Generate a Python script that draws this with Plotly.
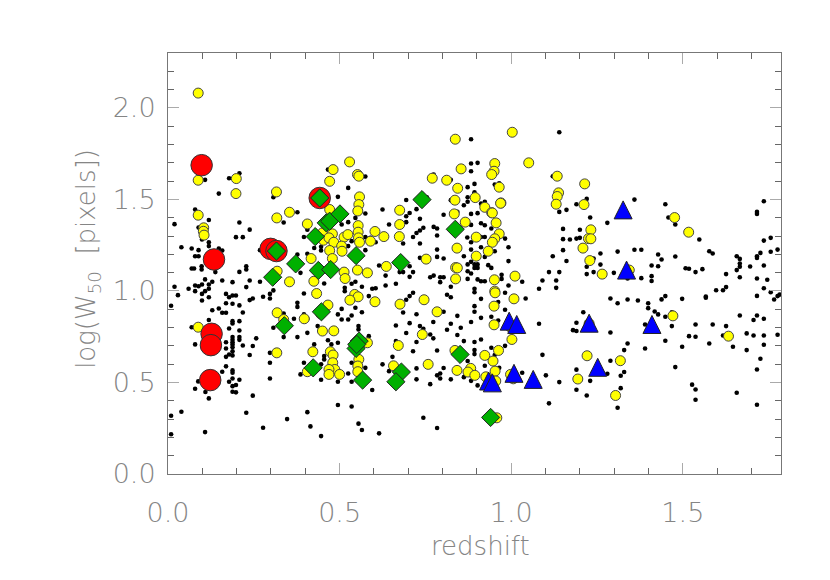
import plotly.graph_objects as go

black_low_z = [(.069,1.123),(.076,1.123),(.098,1.135),(.098,1.117),(.138,1.103),(.228,1.135),(.228,1.117),(.208,1.104),
(.019,1.023),(.029,.977),(.009,.919),(.06,1.012),(.079,1.03),(.089,1.026),(.099,1.035),(.108,1.063),(.079,.999),(.099,.984),(.108,.999),(.119,1.035),(.119,1.012),(.129,1.05),(.099,.948),(.119,.966),(.158,1.057),(.188,1.048),(.228,1.021),(.238,1.057),(.268,1.05),
(.169,.984),(.178,.966),(.188,.975),(.198,.975),(.169,.933),(.188,.93),(.208,.921),(.238,.95),(.247,.959),(.277,.968),(.297,.984),(.297,.959),(.307,1.003),
(.129,.895),(.148,.904),(.158,.881),(.169,.881),(.218,.882),(.119,.841),(.188,.835),(.188,.822),(.208,.835),(.178,.795),(.208,.784),(.188,.748),(.188,.733),(.188,.72),(.208,.748),(.208,.733),(.169,.72),(.218,.702),(.188,.708),(.188,.693),(.169,.686),(.188,.671),(.178,.653),(.169,.64),(.188,.648),(.238,.65),(.247,.699),(.257,.741),(.069,.802),(.079,.708),
(.158,.559),(.169,.588),(.188,.566),(.188,.553),(.208,.515),(.188,.522),(.178,.504),(.188,.48),(.198,.486),(.188,.449),(.198,.446),(.109,.448),(.079,.466),(.088,.506),(.119,.413),(.247,.428),(.297,.662),(.297,.608),(.297,.522),(.228,.335),(.277,.253),(.039,.34),(.009,.318),(.009,.217),(.108,.229),(.347,.30),(.406,.338),(.415,.26),(.446,.207),(.495,.377),(.535,.369),(.555,.275),(.565,.24),
(.208,1.643),(.178,1.616),(.108,1.607),(.148,1.532),(.307,1.512),(.079,1.445),(.119,1.388),(.019,1.365),(.208,1.374),(.089,1.346),(.238,1.335),(.099,1.281),(.198,1.294),(.218,1.294),(.119,1.266),(.119,1.245),(.039,1.239),(.069,1.232),(.089,1.223),(.079,1.19),(.089,1.19),(.148,1.232),(.158,1.221),(.268,1.223),(.337,1.374),(.377,1.43),(.466,1.663),(.575,1.625),(.525,1.563),(.495,1.514),(.575,1.423),(.546,1.399),(.506,1.363),(.525,1.376),(.396,1.295),(.406,1.335),(.426,1.235),(.446,1.241),(.446,1.221),(.506,1.241),(.525,1.245),(.535,1.272),(.575,1.223),(.575,1.294),(.585,1.286),(.406,1.203),(.377,1.199),
(.396,.986),(.377,.935),(.377,.913),(.386,1.099),(.455,1.041),(.406,.771),(.377,.748),(.337,.748),(.307,.799),(.367,.848),(.396,.872),(.337,.877),(.436,.808),(.406,.848),(.426,.708),(.466,.731),(.476,.708),(.495,.717),(.455,.644),(.455,.626),(.446,.599),(.396,.608),(.386,.544),(.446,.515),(.495,.504),(.525,.549),(.535,.504),(.575,.58),(.515,1.017),(.515,.999),(.565,1.023),(.585,.972),(.535,1.039),(.546,1.05),(.506,.902),(.495,.872),(.506,.844),(.535,.866),(.525,.844),(.546,.908),(.565,.884),(.555,.808),(.555,.79),(.585,.753),(.535,.608)]

black_mid_z = [(.883,1.829),(1.14,1.867),(.883,1.696),(.902,1.7),(.883,1.654),(.893,1.585),(.873,1.567),(.952,1.581),(.774,1.636),(.824,1.607),(.965,1.588),(1.121,1.627),(.893,1.539),(.873,1.512),(.824,1.496),(.873,1.487),(.862,1.468),(.912,1.477),(.923,1.487),(.754,1.512),(.694,1.497),(.625,1.445),(.724,1.447),(.704,1.426),(.694,1.408),(.694,1.376),(.734,1.394),(.644,1.363),(.803,1.416),(.843,1.432),(.883,1.421),(.902,1.425),(.912,1.37),(.923,1.359),(.883,1.361),(.942,1.341),(.744,1.345),(.734,1.33),(.724,1.317),(.714,1.295),(.774,1.35),(.784,1.341),(.784,1.303),(.605,1.266),(.59,1.29),(.685,1.259),(.734,1.259),(.872,1.292),(.883,1.266),(.912,1.295),(.923,1.295),(.982,1.286),(.992,1.239),(.952,1.217),(.912,1.239),(.883,1.226),(.784,1.226),(.784,1.186),(.803,1.177),(.734,1.181),(.862,1.19),(.923,1.186),(.992,1.163),(.883,1.159),(.873,1.145),(.893,1.145),(.902,1.145),(.893,1.126),(.902,1.126),(.933,1.141),(.942,1.126),(.615,1.139),(.634,1.084),(.704,1.135),(.714,1.103),(.704,1.077),(.685,1.103),(.675,1.103),(.774,1.084),(.764,1.075),(.803,1.075),(.793,1.075),(.793,1.048),(.873,1.108),(.883,1.095),(.873,1.066),(.902,1.063),(.912,1.053),(.923,1.053),(.972,1.088),(.972,1.066),(.992,1.03),(1.032,1.05),(1.091,1.057),(1.11,1.103),(1.14,1.103),(1.131,1.057),(1.131,1.017),(1.081,1.012),(.664,1.039),(.634,1.03),(.824,1.023),(.893,1.012),(.595,1.012),(.605,1.015),(1.121,1.19),(1.161,1.164),(1.151,1.223),(1.151,1.283),(1.171,1.281),(1.151,1.339),(1.161,1.443),(1.14,1.432),
(.714,.99),(.704,.972),(.694,.952),(.813,.979),(.824,.966),(.893,.993),(.912,.957),(.893,.917),(.893,.886),(.982,.99),(1.042,.959),(.982,.897),(.962,.939),(.942,.859),(.962,.839),(.685,.882),(.724,.873),(.803,.886),(.843,.864),(.912,.853),(.773,.83),(.704,.824),(.664,.811),(.734,.808),(.744,.793),(.824,.821),(.883,.83),(.853,.799),(.813,.788),(.694,.77),(.764,.762),(.773,.741),(.843,.759),(1.081,.821),(.724,.721),(.862,.726),(.893,.721),(.912,.735),(.664,.726),(.982,.7),(.942,.69),(.714,.671),(.784,.675),(.893,.677),(.893,.655),(.952,.65),(1.091,.651),(.654,.64),(.873,.617),(.625,.599),(.644,.562),(.724,.577),(.803,.579),(.923,.591),(.965,.58),(1.032,.553),(1.101,.539),(1.14,.502),(.793,.549),(.784,.539),(.793,.522),(.724,.517),(.764,.491),(.824,.517),(.862,.529),(.883,.509),(.902,.484),(.595,.459),(1.11,.386),(.744,.307),(.784,.251),(.615,.222)]

black_high_z = [(1.359,1.499),(1.449,1.474),(1.22,1.503),(1.19,1.474),(1.736,1.49),(1.716,1.432),(1.716,1.421),(1.23,1.401),(1.28,1.372),(1.458,1.401),(1.478,1.363),(1.2,1.334),(1.19,1.286),(1.2,1.29),(1.548,1.281),(1.736,1.275),(1.756,1.29),(1.31,1.215),(1.359,1.225),(1.379,1.225),(1.428,1.199),(1.438,1.172),(1.478,1.188),(1.577,1.217),(1.587,1.205),(1.657,1.19),(1.666,1.175),(1.716,1.19),(1.716,1.18),(1.726,1.208),(1.756,1.214),(1.776,1.226),(1.26,1.205),(1.26,1.144),(1.24,1.177),(1.22,1.132),(1.24,1.103),(1.22,1.092),(1.299,1.099),(1.409,1.139),(1.428,1.135),(1.508,1.124),(1.518,1.121),(1.537,1.103),(1.557,1.119),(1.666,1.15),(1.666,1.132),(1.657,1.114),(1.696,1.134),(1.736,1.139),(1.626,1.092),(1.666,1.075),(1.716,1.068),(1.746,1.061),(1.379,1.07),(1.409,1.081),(1.409,1.054),(1.339,1.068),(1.626,1.021),(1.617,1.004),(1.597,1.004),(1.736,1.015),(1.756,.993),(1.716,.973),(1.567,.97),(1.567,.963),(1.449,.972),(1.438,.954),(1.498,.957),(1.289,.959),(1.339,.953),(1.369,.948),(1.776,.972),(1.766,.953),(1.782,.98),
(1.31,.933),(1.399,.933),(1.399,.906),(1.418,.888),(1.428,.872),(1.449,.859),(1.21,.884),(1.19,.826),(1.18,.786),(1.19,.781),(1.289,.773),(1.39,.817),(1.468,.808),(1.468,.884),(1.537,.817),(1.587,.817),(1.626,.808),(1.666,.866),(1.716,.866),(1.706,.841),(1.736,.848),(1.518,.753),(1.537,.75),(1.617,.757),(1.686,.768),(1.706,.757),(1.736,.757),(1.776,.761),(1.449,.728),(1.339,.713),(1.329,.677),(1.39,.686),(1.498,.695),(1.577,.713),(1.646,.695),(1.686,.677),(1.736,.706),(1.726,.63),(1.289,.619),(1.19,.57),(1.28,.548),(1.329,.557),(1.319,.537),(1.478,.584),(1.716,.571),(1.23,.509),(1.319,.469),(1.19,.46),(1.22,.429),(1.31,.362),(1.527,.488),(1.537,.462),(1.537,.406),(1.657,.444),(1.716,.378)]

yellow_points = [(.088,2.081),(.088,1.605),(.199,1.614),(.198,1.532),(.316,1.541),(.088,1.414),(.104,1.345),(.103,1.326),(.105,1.305),(.317,1.399),(.354,1.43),(.406,1.366),(.471,1.599),(.481,1.663),(.529,1.705),(.552,1.636),(.556,1.627),(.558,1.514),(.556,1.472),(.553,1.437),(.471,1.445),(.554,1.357),(.554,1.321),(.555,1.29),(.558,1.266),(.45,1.317),(.479,1.312),(.453,1.277),(.469,1.29),(.483,1.266),(.513,1.294),(.524,1.308),(.506,1.245),(.507,1.217),(.471,1.221),(.417,1.177),(.479,1.177),(.59,1.272),
(.088,.802),(.318,.881),(.337,.844),(.354,1.05),(.318,1.108),(.317,.662),(.425,1.053),(.433,.986),(.466,.923),(.397,.848),(.445,.875),(.45,.781),(.483,.782),(.422,.668),(.473,.668),(.481,.65),(.48,.608),(.486,.571),(.469,.571),(.469,.544),(.5,.544),(.406,.559),(.513,1.103),(.516,1.068),(.552,1.114),(.581,1.099),(.544,.981),(.554,.968),(.53,.95),(.556,.626),(.553,.59),(.553,.559),(.581,.717),
(.837,1.829),(1.003,1.867),(.952,1.696),(1.051,1.7),(.95,1.654),(.943,1.636),(.854,1.667),(.77,1.616),(.812,1.605),(1.134,1.627),(.844,1.561),(.965,1.567),(.836,1.496),(.895,1.51),(1.138,1.536),(1.134,1.516),(1.131,1.474),(.97,1.481),(.969,1.479),(.923,1.457),(.943,1.428),(.945,1.426),(.834,1.421),(.866,1.376),(.956,1.372),(.675,1.441),(.675,1.363),(.674,1.297),(.603,1.325),(.629,1.297),(.898,1.294),(.965,1.312),(.952,1.285),(.945,1.266),(.933,1.217),(.842,1.234),(.898,1.19),(.752,1.174),(.636,1.134),(.838,1.128),(.843,1.126),(1.011,1.081),(.838,1.066),(.951,1.061),(.952,.999),
(.603,.941),(.676,.928),(.746,.952),(.784,.886),(.953,.99),(1.008,.957),(.95,.917),(.95,.815),(.741,.762),(.671,.702),(1.002,.735),(.963,.675),(.923,.648),(.947,.617),(.836,.675),(.758,.599),(.657,.591),(.842,.566),(.953,.562),(.882,.577),(.874,.557),(.894,.539),(.926,.531),(.955,.508),(1.006,.52),(.998,.544),(.958,.307),(.999,.8),
(1.214,1.585),(1.212,1.472),(1.476,1.401),(1.517,1.321),(1.232,1.334),(1.225,1.286),(1.232,1.285),(1.209,1.234),(1.229,1.166),(1.265,1.092),(1.344,1.114),
(1.471,.864),(1.633,.753),(1.227,.822),(1.221,.646),(1.318,.619),(1.194,.519),(1.304,.429)]

red_points = [(.098,1.687),(.442,1.508),(.299,1.23),(.316,1.218),(.134,1.172),(.127,.766),(.125,.704),(.123,.513)]

green_points = [(.316,1.218),(.442,1.508),(.461,1.372),(.471,1.381),(.501,1.421),(.429,1.297),(.548,1.193),(.372,1.148),(.305,1.075),(.438,1.112),(.474,1.117),(.447,.886),(.339,.81),(.557,.726),(.548,.686),(.55,.708),(.423,.58),(.567,.513),(.74,1.499),(.837,1.337),(.678,1.155),(.851,.653),(.68,.557),(.664,.504),(.94,.309)]

blue_points = [(1.326,1.432),(1.336,1.103),(.994,.824),(1.016,.806),(1.008,.539),(1.064,.506),(.934,.497),(.945,.487),(1.227,.813),(1.41,.806),(1.252,.572)]

x_tick_labels = ["0.0", "0.5", "1.0", "1.5"]
y_tick_labels = ["0.0", "0.5", "1.0", "1.5", "2.0"]
x_title = "redshift"
y_title = "log(W<sub>50</sub>  [pixels])"

black_points = black_low_z + black_mid_z + black_high_z

def xs(p): return [a for a, _ in p]
def ys(p): return [b for _, b in p]

fig = go.Figure()
fig.add_trace(go.Scatter(x=xs(black_points), y=ys(black_points), mode="markers",
    marker=dict(color="black", size=4.6, line=dict(width=0))))
fig.add_trace(go.Scatter(x=xs(yellow_points), y=ys(yellow_points), mode="markers",
    marker=dict(color="#ffff00", size=10, line=dict(color="#444444", width=1))))
fig.add_trace(go.Scatter(x=xs(red_points), y=ys(red_points), mode="markers",
    marker=dict(color="#ff0000", size=21.5, line=dict(color="#333333", width=1))))
fig.add_trace(go.Scatter(x=xs(green_points), y=ys(green_points), mode="markers",
    marker=dict(color="#00b000", symbol="diamond", size=14, line=dict(color="#222222", width=1))))
fig.add_trace(go.Scatter(x=xs(blue_points), y=ys(blue_points), mode="markers",
    marker=dict(color="#0000ff", symbol="triangle-up", size=13, line=dict(width=0))))

# The reference triangles are as tall as wide; plotly's symbol is flatter, so each is
# completed by a pixel-sized shape anchored on the same data point.
TRIANGLE = "M -9,-7 L 9,-7 L 0,11 Z"
fig.update_layout(shapes=[
    dict(type="path", xref="x", yref="y", xsizemode="pixel", ysizemode="pixel",
         xanchor=x, yanchor=y, path=TRIANGLE, fillcolor="#0000ff",
         line=dict(color="#222222", width=1), layer="above")
    for x, y in blue_points
])

FONT = "DejaVu Sans Light, DejaVu Sans, Liberation Sans"
GREY = "#858585"
axis_common = dict(
    showgrid=False, zeroline=False, showline=True, linecolor="#777777", linewidth=1,
    mirror="ticks", ticks="inside", ticklen=11, tickcolor="#aaaaaa", tickwidth=1,
    minor=dict(ticks="inside", ticklen=6, tickcolor="#666666", tickwidth=1, dtick=0.1, showgrid=False),
    tickfont=dict(family=FONT, size=27, color=GREY),
)
fig.update_layout(
    width=830, height=580, autosize=False, showlegend=False,
    paper_bgcolor="white", plot_bgcolor="white",
    margin=dict(l=160, r=57, t=45, b=114),
    xaxis=dict(range=[0, 1.786], tickvals=[0, .5, 1, 1.5], ticktext=x_tick_labels,
               ticklabelstandoff=15, **axis_common),
    yaxis=dict(range=[0, 2.3], tickvals=[0, .5, 1, 1.5, 2], ticktext=y_tick_labels,
               ticklabelstandoff=6, **axis_common),
    annotations=[
        dict(text=x_title, xref="paper", yref="paper", x=0.51, y=0, yshift=-72,
             xanchor="center", yanchor="middle", showarrow=False,
             font=dict(family=FONT, size=26, color=GREY)),
        dict(text=y_title, xref="paper", yref="paper", x=0, y=0.511, xshift=-80,
             xanchor="center", yanchor="middle", textangle=-90, showarrow=False,
             font=dict(family=FONT, size=26, color=GREY)),
    ],
)
fig.write_html("out.html")
